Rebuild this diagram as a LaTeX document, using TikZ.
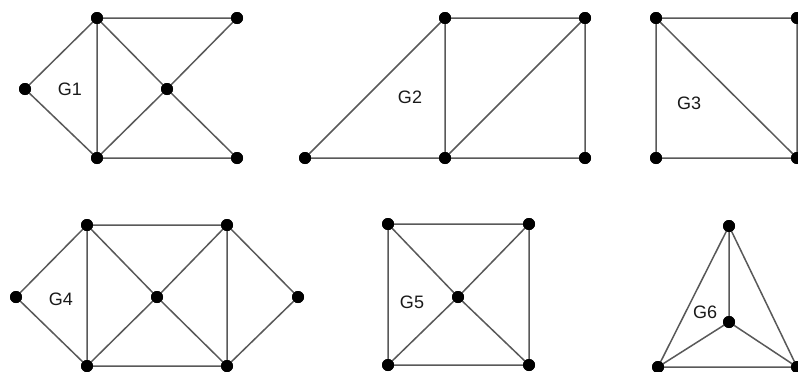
\documentclass[tikz,border=0pt]{standalone}
\usepackage{fontspec}
\setmainfont{Liberation Sans}
\begin{document}
\begin{tikzpicture}[x=1pt,y=-1pt,
  vtx/.style={circle,fill=black,inner sep=0pt,minimum size=12pt},
  edge/.style={draw=black!65,line width=1.5pt},
  glabel/.style={font=\fontsize{18}{20}\selectfont,text=black!90,inner sep=0pt}]
\clip (0,0) rectangle (798,372);
\fill[white] (0,0) rectangle (798,372);
% G1
\node[vtx] (a1) at (25,89) {};
\node[vtx] (b1) at (97,18) {};
\node[vtx] (c1) at (237,18) {};
\node[vtx] (d1) at (167,89) {};
\node[vtx] (e1) at (97,158) {};
\node[vtx] (f1) at (237,158) {};
\node[glabel] (l1) at (70,89) {G1};
\begin{scope}[on background layer/.try]
\end{scope}
\draw[edge] (a1.center)--(b1.center) (a1.center)--(e1.center) (b1.center)--(e1.center)
  (b1.center)--(c1.center) (b1.center)--(d1.center) (c1.center)--(d1.center)
  (d1.center)--(e1.center) (d1.center)--(f1.center) (e1.center)--(f1.center);
% G2
\node[vtx] (p2) at (305,158) {};
\node[vtx] (q2) at (445,18) {};
\node[vtx] (r2) at (585,18) {};
\node[vtx] (s2) at (445,158) {};
\node[vtx] (t2) at (585,158) {};
\node[glabel] (l2) at (410,97) {G2};
\draw[edge] (p2.center)--(q2.center) (p2.center)--(s2.center) (q2.center)--(s2.center)
  (q2.center)--(r2.center) (r2.center)--(s2.center) (r2.center)--(t2.center)
  (s2.center)--(t2.center);
% G3
\node[vtx] (a3) at (656,18) {};
\node[vtx] (b3) at (797,18) {};
\node[vtx] (c3) at (656,158) {};
\node[vtx] (d3) at (797,158) {};
\node[glabel] (l3) at (689,103) {G3};
\draw[edge] (a3.center)--(b3.center) (a3.center)--(c3.center) (c3.center)--(d3.center)
  (a3.center)--(d3.center) (b3.center)--(d3.center);
% G4
\node[vtx] (l4) at (16,297) {};
\node[vtx] (tl4) at (87,225) {};
\node[vtx] (tr4) at (227,225) {};
\node[vtx] (c4) at (157,297) {};
\node[vtx] (r4) at (298,297) {};
\node[vtx] (bl4) at (87,366) {};
\node[vtx] (br4) at (227,366) {};
\node[glabel] (g4) at (61,299) {G4};
\draw[edge] (l4.center)--(tl4.center) (l4.center)--(bl4.center) (tl4.center)--(bl4.center)
  (tl4.center)--(tr4.center) (tl4.center)--(c4.center) (tr4.center)--(c4.center)
  (c4.center)--(bl4.center) (c4.center)--(br4.center) (tr4.center)--(br4.center)
  (tr4.center)--(r4.center) (r4.center)--(br4.center) (bl4.center)--(br4.center);
% G5
\node[vtx] (tl5) at (388,224) {};
\node[vtx] (tr5) at (529,224) {};
\node[vtx] (c5) at (458,297) {};
\node[vtx] (bl5) at (388,365) {};
\node[vtx] (br5) at (529,365) {};
\node[glabel] (g5) at (412,302) {G5};
\draw[edge] (tl5.center)--(tr5.center) (tl5.center)--(bl5.center) (tr5.center)--(br5.center)
  (bl5.center)--(br5.center) (tl5.center)--(c5.center) (tr5.center)--(c5.center)
  (c5.center)--(bl5.center) (c5.center)--(br5.center);
% G6
\node[vtx] (t6) at (729,226) {};
\node[vtx] (m6) at (729,322) {};
\node[vtx] (bl6) at (658,367) {};
\node[vtx] (br6) at (797,367) {};
\node[glabel] (g6) at (705,312) {G6};
\draw[edge] (t6.center)--(m6.center) (t6.center)--(bl6.center) (t6.center)--(br6.center)
  (m6.center)--(bl6.center) (m6.center)--(br6.center) (bl6.center)--(br6.center);
% redraw vertices on top
\foreach \v in {a1,b1,c1,d1,e1,f1,p2,q2,r2,s2,t2,a3,b3,c3,d3,l4,tl4,tr4,c4,r4,bl4,br4,tl5,tr5,c5,bl5,br5,t6,m6,bl6,br6}
  \fill[black] (\v.center) circle (6pt);
\end{tikzpicture}
\end{document}
